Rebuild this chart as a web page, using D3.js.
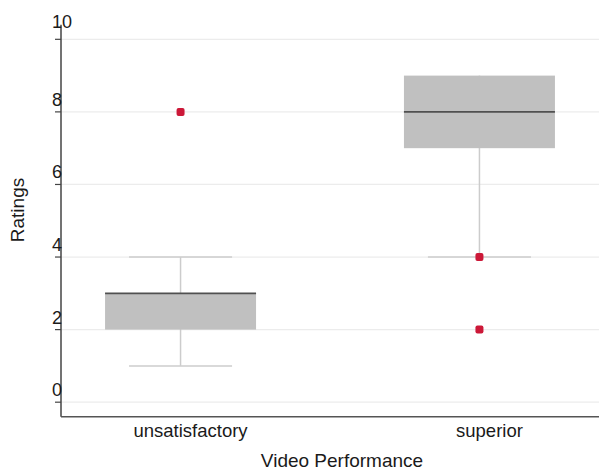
<!DOCTYPE html>
<html>
<head>
<meta charset="utf-8">
<script src="https://cdn.jsdelivr.net/npm/d3@7"></script>
<style>
  body { margin: 0; background: #fff; }
  text { font-family: "Liberation Sans", Arial, sans-serif; fill: #1a1a1a; }
</style>
</head>
<body>
<div id="chart"></div>
<script>
// chart data
const categories = ["unsatisfactory", "superior"];
const mins = [1, 4];
const q1s = [2, 7];
const medians = [3, 8];
const q3s = [3, 9];
const maxs = [4, 9];
const outliers = [[8], [4, 2]];
const yTicks = [0, 2, 4, 6, 8, 10];

const width = 599, height = 470;
const plotLeft = 61, plotRight = 599, plotTop = 24.8, plotBottom = 416.7;

const svg = d3.select("#chart").append("svg")
  .attr("width", width)
  .attr("height", height);

const x = d3.scalePoint().domain(categories).range([plotLeft, plotRight]).padding(0.4);
const y = d3.scaleLinear().domain([-0.4, 10.4]).range([plotBottom, plotTop]);

const boxW = 151, capW = 103;

// grid
svg.append("g").selectAll("line").data(yTicks).join("line")
  .attr("x1", plotLeft).attr("x2", plotRight)
  .attr("y1", d => y(d)).attr("y2", d => y(d))
  .attr("stroke", "#ececec").attr("stroke-width", 1.2);

const boxes = categories.map((c, i) => ({
  c, min: mins[i], q1: q1s[i], med: medians[i], q3: q3s[i], max: maxs[i], out: outliers[i]
}));

const g = svg.append("g");

// whiskers
g.selectAll(".whisk").data(boxes).join("line")
  .attr("x1", d => x(d.c)).attr("x2", d => x(d.c))
  .attr("y1", d => y(d.min)).attr("y2", d => y(d.max))
  .attr("stroke", "#cccccc").attr("stroke-width", 1.5);

g.selectAll(".capLo").data(boxes.filter(d => d.min < d.q1)).join("line")
  .attr("x1", d => x(d.c) - capW / 2).attr("x2", d => x(d.c) + capW / 2)
  .attr("y1", d => y(d.min)).attr("y2", d => y(d.min))
  .attr("stroke", "#cccccc").attr("stroke-width", 1.5);

g.selectAll(".capHi").data(boxes.filter(d => d.max > d.q3)).join("line")
  .attr("x1", d => x(d.c) - capW / 2).attr("x2", d => x(d.c) + capW / 2)
  .attr("y1", d => y(d.max)).attr("y2", d => y(d.max))
  .attr("stroke", "#cccccc").attr("stroke-width", 1.5);

// boxes
g.selectAll(".box").data(boxes).join("rect")
  .attr("x", d => x(d.c) - boxW / 2)
  .attr("width", boxW)
  .attr("y", d => y(d.q3))
  .attr("height", d => y(d.q1) - y(d.q3))
  .attr("fill", "#c0c0c0");

g.selectAll(".med").data(boxes).join("line")
  .attr("x1", d => x(d.c) - boxW / 2).attr("x2", d => x(d.c) + boxW / 2)
  .attr("y1", d => y(d.med)).attr("y2", d => y(d.med))
  .attr("stroke", "#505050").attr("stroke-width", 1.8);

// outliers
const pts = boxes.flatMap(d => d.out.map(v => ({ c: d.c, v })));
g.selectAll(".out").data(pts).join("rect")
  .attr("x", d => x(d.c) - 4).attr("y", d => y(d.v) - 4)
  .attr("width", 8).attr("height", 8).attr("rx", 2)
  .attr("fill", "#cc1838");

// y axis
svg.append("line")
  .attr("x1", plotLeft).attr("x2", plotLeft).attr("y1", plotTop).attr("y2", plotBottom)
  .attr("stroke", "#444").attr("stroke-width", 1.5);
svg.append("g").selectAll("line").data(yTicks).join("line")
  .attr("x1", plotLeft - 6).attr("x2", plotLeft)
  .attr("y1", d => y(d)).attr("y2", d => y(d))
  .attr("stroke", "#444").attr("stroke-width", 1.2);
// top label sits a little higher, as in the original
svg.append("g").selectAll("text").data(yTicks).join("text")
  .attr("x", 52).attr("y", (d, i) => y(d) - (i === yTicks.length - 1 ? 11 : 6))
  .attr("font-size", 18)
  .text(d => d);

// x axis
svg.append("line")
  .attr("x1", plotLeft).attr("x2", plotRight).attr("y1", plotBottom).attr("y2", plotBottom)
  .attr("stroke", "#555").attr("stroke-width", 1.5);
svg.append("g").selectAll("text").data(categories).join("text")
  .attr("x", d => x(d) + 10).attr("y", 437)
  .attr("text-anchor", "middle").attr("font-size", 18.5)
  .text(d => d);

// axis titles
svg.append("text")
  .attr("x", 342).attr("y", 467)
  .attr("text-anchor", "middle").attr("font-size", 19)
  .text("Video Performance");
svg.append("text")
  .attr("transform", "translate(24,210) rotate(-90)")
  .attr("text-anchor", "middle").attr("font-size", 19)
  .text("Ratings");
</script>
</body>
</html>
